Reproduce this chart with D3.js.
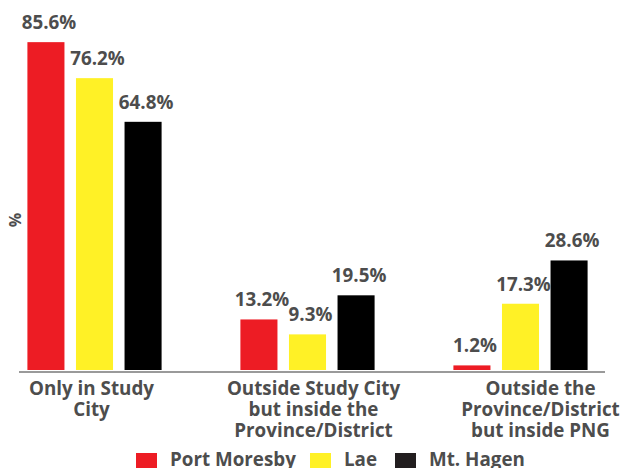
<!DOCTYPE html>
<html>
<head>
<meta charset="utf-8">
<script src="https://cdn.jsdelivr.net/npm/d3@7"></script>
<style>
  html, body { margin: 0; padding: 0; background: #fff; }
  svg { display: block; font-family: "Open Sans", "Noto Sans", sans-serif; }
</style>
</head>
<body>
<svg id="chart" width="622" height="468"></svg>
<script>
// ---- data ----
const categories = [
  ["Only in Study", "City"],
  ["Outside Study City", "but inside the", "Province/District"],
  ["Outside the", "Province/District", "but inside PNG"]
];
const seriesNames = ["Port Moresby", "Lae", "Mt. Hagen"];
const portMoresby = [85.6, 13.2, 1.2];
const lae = [76.2, 9.3, 17.3];
const mtHagen = [64.8, 19.5, 28.6];
const yAxisLabel = "%";

// ---- layout / style ----
const colors = ["#ED1C24", "#FFF126", "#000000"];
const legendColors = ["#ED1C24", "#FFF126", "#221E1F"];
const textColor = "#4d4d4d";
const catLabelShift = [-3, 6, 20];
const fs = 18.8;

const svg = d3.select("#chart");
const seriesValues = [portMoresby, lae, mtHagen];
const catKeys = categories.map((c, i) => "c" + i);

const x0 = d3.scaleBand().domain(catKeys).range([-12, 627])
  .paddingInner(0.37).paddingOuter(0.185);
const x1 = d3.scaleBand().domain(seriesNames).range([0, x0.bandwidth()])
  .paddingInner(0.237).paddingOuter(0);
const y = d3.scaleLinear().domain([0, 100]).range([370, -13]);

const groups = svg.selectAll("g.grp").data(catKeys).join("g")
  .attr("class", "grp")
  .attr("transform", d => `translate(${x0(d)},0)`);

groups.each(function(key, ci) {
  const g = d3.select(this);
  const rows = seriesNames.map((s, si) => ({ s, si, v: seriesValues[si][ci] }));
  g.selectAll("rect").data(rows).join("rect")
    .attr("x", d => x1(d.s))
    .attr("y", d => y(d.v))
    .attr("width", x1.bandwidth())
    .attr("height", d => y(0) - y(d.v))
    .attr("fill", d => colors[d.si]);
  g.selectAll("text.val").data(rows).join("text")
    .attr("class", "val")
    .attr("x", d => x1(d.s) + x1.bandwidth() / 2 + 3)
    .attr("y", d => y(d.v) - 13)
    .attr("text-anchor", "middle")
    .attr("font-size", fs)
    .attr("font-weight", "bold")
    .attr("fill", textColor)
    .text(d => d.v.toFixed(1) + "%");
});

// x axis line
svg.append("line")
  .attr("x1", 19).attr("x2", 605)
  .attr("y1", 372).attr("y2", 372)
  .attr("stroke", "#9a9a9a").attr("stroke-width", 2);

// category labels
catKeys.forEach((key, ci) => {
  const t = svg.append("text")
    .attr("text-anchor", "middle")
    .attr("font-size", fs)
    .attr("font-weight", "bold")
    .attr("fill", textColor);
  const cx = x0(key) + x0.bandwidth() / 2 + catLabelShift[ci];
  categories[ci].forEach((line, li) => {
    t.append("tspan").attr("x", cx).attr("y", 395 + li * 21).text(line);
  });
});

// y axis label
svg.append("text")
  .attr("transform", "translate(21,220) rotate(-90)")
  .attr("text-anchor", "middle")
  .attr("font-size", 16)
  .attr("font-weight", "bold")
  .attr("fill", textColor)
  .text(yAxisLabel);

// legend
const legendX = [136, 310, 395];
seriesNames.forEach((s, i) => {
  svg.append("rect")
    .attr("x", legendX[i]).attr("y", 453)
    .attr("width", 21).attr("height", 16)
    .attr("fill", legendColors[i]);
  svg.append("text")
    .attr("x", legendX[i] + 34).attr("y", 466)
    .attr("font-size", fs)
    .attr("font-weight", "bold")
    .attr("fill", textColor)
    .text(s);
});
</script>
</body>
</html>
